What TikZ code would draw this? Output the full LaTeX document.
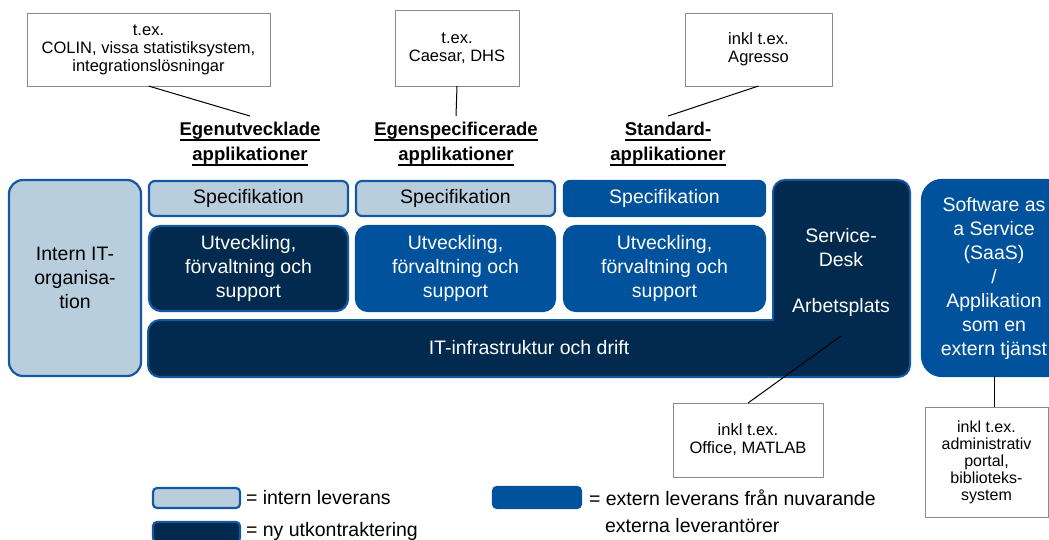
\documentclass[tikz,border=0pt]{standalone}
\usepackage{fontspec}
\setmainfont{Liberation Sans}

\definecolor{lightblue}{HTML}{B8CEDD}
\definecolor{midblue}{HTML}{00529C}
\definecolor{navy}{HTML}{022A4E}
\definecolor{edgeblue}{HTML}{1358A2}
\definecolor{calloutgray}{HTML}{8A8A8A}

% underlined heading line with a rule set below the baseline
\newsavebox\headbox
\newcommand\ulhead[1]{\sbox\headbox{#1}\rlap{\rule[-5.5pt]{\wd\headbox}{1.8pt}}\usebox\headbox}

\begin{document}
\begin{tikzpicture}[x=1pt,y=-1pt,
  every node/.style={inner sep=0pt, outer sep=0pt},
  txt/.style={font=\fontsize{19.5}{24}\selectfont, align=center},
  intbox/.style={draw=edgeblue, line width=2.2pt, fill=lightblue, text=black},
  extbox/.style={draw=midblue, line width=2.2pt, fill=midblue, text=white},
  newbox/.style={draw=edgeblue, line width=2.2pt, fill=navy, text=white},
  callout/.style={draw=calloutgray, line width=0.9pt, fill=white,
    font=\fontsize{16.5}{18}\selectfont, align=center},
  heading/.style={font=\fontsize{18.5}{25}\selectfont\bfseries, align=center, inner sep=6pt},
  link/.style={draw=black, line width=1pt}]

\useasboundingbox (0,0) rectangle (1049,540);

% internal organisation column
\node[intbox, rounded corners=14, txt, minimum width=132, minimum height=196]
  (intern) at (75,278) {Intern IT-\\organisa-\\tion};

% specification row
\node[intbox, rounded corners=6, txt, minimum width=199, minimum height=35]
  (spec1) at (248.5,198.5) {Specifikation};
\node[intbox, rounded corners=6, txt, minimum width=199, minimum height=35]
  (spec2) at (455.5,198.5) {Specifikation};
\node[extbox, rounded corners=6, txt, minimum width=201, minimum height=35]
  (spec3) at (664.5,198.5) {Specifikation};

% development / maintenance / support row
\node[newbox, rounded corners=12, txt, minimum width=199, minimum height=85]
  (utv1) at (248.5,268.5) {Utveckling,\\förvaltning och\\support};
\node[extbox, rounded corners=12, txt, minimum width=199, minimum height=85]
  (utv2) at (455.5,268.5) {Utveckling,\\förvaltning och\\support};
\node[extbox, rounded corners=12, txt, minimum width=201, minimum height=85]
  (utv3) at (664.5,268.5) {Utveckling,\\förvaltning och\\support};

% infrastructure bar joined with the service desk column (L shape)
\draw[fill=navy, draw=edgeblue, line width=2pt, rounded corners=12]
  (773,250) -- (773,180) -- (910,180) -- (910,377) -- (148,377) -- (148,320)
  -- (600,320) [sharp corners] -- (773,320) -- cycle;
\node[txt, text=white] (infra) at (529,348) {IT-infrastruktur och drift};
\node[txt, text=white] (desk) at (841,247.5) {Service-\\Desk};
\node[txt, text=white] (arb) at (841,307) {Arbetsplats};
\coordinate (deskpt) at (841,336);

% SaaS column
\node[extbox, rounded corners=20, txt, minimum width=144, minimum height=196]
  (saas) at (994,278) {Software as\\a Service\\(SaaS)\\/\\Applikation\\som en\\extern tjänst};

% headings
\node[heading] (h1) at (250,144) {\ulhead{Egenutvecklade}\\\ulhead{applikationer}};
\node[heading] (h2) at (456,144) {\ulhead{Egenspecificerade}\\\ulhead{applikationer}};
\node[heading] (h3) at (668,144) {\ulhead{Standard-}\\\ulhead{applikationer}};

% example callouts
\node[callout, minimum width=243, minimum height=73] (c1) at (148.5,49.5)
  {t.ex.\\COLIN, vissa statistiksystem,\\integrationslösningar};
\node[callout, minimum width=124, minimum height=76] (c2) at (457,48)
  {t.ex.\\Caesar, DHS};
\node[callout, minimum width=147, minimum height=73] (c3) at (758.5,49.5)
  {inkl t.ex.\\Agresso};
\node[callout, minimum width=150, minimum height=74] (office) at (748,440)
  {inkl t.ex.\\Office, MATLAB};
\node[callout, font=\fontsize{16}{17}\selectfont, minimum width=123, minimum height=110]
  (ext) at (986.5,462) {inkl t.ex.\\administrativ\\portal,\\biblioteks-\\system};

\draw[link] (c1.south) -- (h1.north);
\draw[link] (c2.south) -- (h2.north);
\draw[link] (c3.south) -- (h3.north);
\draw[link] (deskpt) -- (office.north);
\draw[link] (saas.south) -- (saas.south |- ext.north);

% legend
\node[intbox, rounded corners=4, minimum width=87, minimum height=20] (lg1) at (196.5,498) {};
\node[txt, anchor=west] (lg1t) at (246,498) {= intern leverans};
\node[newbox, rounded corners=4, minimum width=87, minimum height=20] (lg2) at (196.5,532) {};
\node[txt, anchor=west] (lg2t) at (246,531) {= ny utkontraktering};
\node[extbox, rounded corners=4, minimum width=88, minimum height=21] (lg3) at (537,497.5) {};
\node[txt, anchor=west] (lg3t) at (589,498) {= extern leverans från nuvarande};
\node[txt, anchor=west] (lg3u) at (605,526) {externa leverantörer};

\end{tikzpicture}
\end{document}
